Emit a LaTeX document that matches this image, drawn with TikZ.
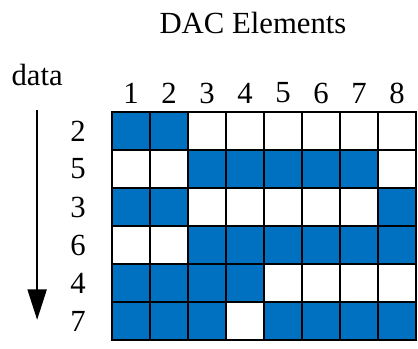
\documentclass[tikz,border=0pt]{standalone}
\usepackage{fontspec}
\setmainfont{Liberation Serif}
\usetikzlibrary{arrows.meta}
\definecolor{dacblue}{RGB}{0,112,192}

\begin{document}
\begin{tikzpicture}[
    cell/.style={draw, line width=1pt, minimum size=1cm, inner sep=0pt, fill=white},
    onbox/.style={cell, fill=dacblue},
    lab/.style={font=\fontsize{23}{27}\selectfont, inner sep=0pt},
    arr/.style={-{Triangle[length=8mm, width=5mm]}, line width=1.5pt}
  ]
  \useasboundingbox (-2.947,2.947) rectangle (8.053,-6.237);
  \node[lab] (title) at (3.71,2.34) {DAC Elements};
  \node[lab] (data) at (-1.97,0.97) {data};
  % column numbers
  \foreach \c in {1,...,8}
    \node[lab] (col\c) at (\c-0.5,0.5) {\c};
  % rows: input code and the elements switched on
  \foreach \r/\code/\cols in {1/2/{1,2}, 2/5/{3,4,5,6,7}, 3/3/{1,2,8}, 4/6/{3,4,5,6,7,8}, 5/4/{1,2,3,4}, 6/7/{1,2,3,5,6,7,8}} {
    \node[lab] (code\r) at (-0.89,0.5-\r) {\code};
    \foreach \c in {1,...,8}
      \node[cell] (e\r-\c) at (\c-0.5,0.5-\r) {};
    \foreach \c in \cols
      \node[onbox] (on\r-\c) at (\c-0.5,0.5-\r) {};
  }
  \coordinate (top) at (-1.97,0.05);
  \coordinate (bot) at (-1.97,-5.47);
  \draw[arr] (top) -- (bot);
\end{tikzpicture}
\end{document}
